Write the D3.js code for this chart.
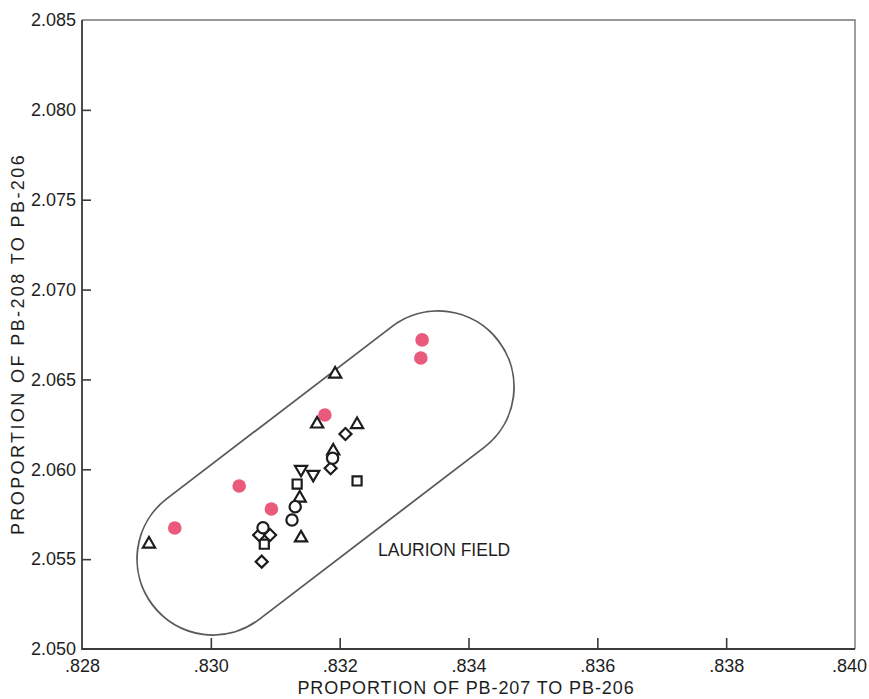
<!DOCTYPE html>
<html>
<head>
<meta charset="utf-8">
<script src="https://cdn.jsdelivr.net/npm/d3@7"></script>
<style>
  html, body { margin: 0; padding: 0; background: #fff; }
  svg { display: block; }
  text { font-family: "Liberation Sans", Arial, Helvetica, sans-serif; fill: #1e1e1e; }
</style>
</head>
<body>
<svg id="chart" width="869" height="699"></svg>
<script>
// Lead isotope ratios: PB-207/PB-206 (x) against PB-208/PB-206 (y)
const xTicks = [0.828, 0.830, 0.832, 0.834, 0.836, 0.838, 0.840];
const xTickLabels = [".828", ".830", ".832", ".834", ".836", ".838", ".840"];
const yTicks = [2.050, 2.055, 2.060, 2.065, 2.070, 2.075, 2.080, 2.085];
const yTickLabels = ["2.050", "2.055", "2.060", "2.065", "2.070", "2.075", "2.080", "2.085"];

// Filled samples
const dotX = [0.82944, 0.83044, 0.83094, 0.83177, 0.83328, 0.83326];
const dotY = [2.05673, 2.05907, 2.05779, 2.06302, 2.06720, 2.06619];

// Open-symbol samples, one pair of arrays per symbol
const triUpX = [0.82904, 0.83193, 0.83165, 0.83227, 0.83190, 0.83138, 0.83140];
const triUpY = [2.05584, 2.06530, 2.06252, 2.06249, 2.06102, 2.05840, 2.05618];
const triDownX = [0.83140, 0.83159];
const triDownY = [2.06000, 2.05972];
const diamondX = [0.83209, 0.83186, 0.83075, 0.83092, 0.83079];
const diamondY = [2.06196, 2.06006, 2.05634, 2.05634, 2.05486];
const circleX = [0.83189, 0.83131, 0.83126, 0.83081];
const circleY = [2.06061, 2.05792, 2.05718, 2.05675];
const squareX = [0.83134, 0.83227, 0.83083];
const squareY = [2.05918, 2.05935, 2.05583];

// Laurion field outline: capsule between two end centres
const fieldEndX = [0.830034, 0.833527];
const fieldEndY = [2.055008, 2.064579];
const fieldLabel = "LAURION FIELD";

const svg = d3.select("#chart");
const plotLeft = 82, plotRight = 855, plotTop = 20, plotBottom = 649;

const x = d3.scaleLinear().domain([0.828, 0.840]).range([plotLeft, plotRight]);
const y = d3.scaleLinear().domain([2.050, 2.085]).range([plotBottom, plotTop]);

// Frame
svg.append("path")
  .attr("d", `M${plotLeft},${plotTop}H${plotRight}V${plotBottom}`)
  .attr("fill", "none").attr("stroke", "#777").attr("stroke-width", 1.4);
svg.append("path")
  .attr("d", `M${plotLeft},${plotTop}V${plotBottom}H${plotRight}`)
  .attr("fill", "none").attr("stroke", "#3a3a3a").attr("stroke-width", 1.8);

// Axes with inward ticks
const yAxis = d3.axisLeft(y)
  .tickValues(yTicks)
  .tickFormat((d, i) => yTickLabels[i])
  .tickSizeInner(-9).tickSizeOuter(0).tickPadding(6);
const gy = svg.append("g").attr("transform", `translate(${plotLeft},0)`).call(yAxis);
gy.select(".domain").remove();
gy.selectAll(".tick line").attr("stroke", "#3a3a3a").attr("stroke-width", 1.6)
  .filter(d => d === 2.050 || d === 2.085).remove();
gy.selectAll(".tick text").attr("font-size", 18).attr("fill", (d) => d === 2.085 ? "#707070" : "#1e1e1e");

const xAxis = d3.axisBottom(x)
  .tickValues(xTicks)
  .tickFormat((d, i) => xTickLabels[i])
  .tickSizeInner(-11).tickSizeOuter(0).tickPadding(10);
const gx = svg.append("g").attr("transform", `translate(0,${plotBottom})`).call(xAxis);
gx.select(".domain").remove();
gx.selectAll(".tick line").attr("stroke", "#3a3a3a").attr("stroke-width", 1.6)
  .filter(d => d === 0.828 || d === 0.840).remove();
gx.selectAll(".tick text").attr("font-size", 18).attr("fill", "#1e1e1e")
  .filter(d => d === 0.840).attr("dx", -6);

// Axis titles
svg.append("text")
  .attr("x", 466).attr("y", 694)
  .attr("text-anchor", "middle").attr("font-size", 18)
  .attr("letter-spacing", 0.9)
  .text("PROPORTION OF PB-207 TO PB-206");
svg.append("text")
  .attr("transform", "translate(24,344) rotate(-90)")
  .attr("text-anchor", "middle").attr("font-size", 18)
  .attr("letter-spacing", 2.4)
  .text("PROPORTION OF PB-208 TO PB-206");

// Field outline
const r = 76;
const c1 = [x(fieldEndX[0]), y(fieldEndY[0])];
const c2 = [x(fieldEndX[1]), y(fieldEndY[1])];
const len = Math.hypot(c2[0] - c1[0], c2[1] - c1[1]);
const dir = [(c2[0] - c1[0]) / len, (c2[1] - c1[1]) / len];
const nrm = [dir[1], -dir[0]];  // normal pointing to the upper-left side
const pt = (c, s) => [c[0] + s * r * nrm[0], c[1] + s * r * nrm[1]];
const a1 = pt(c1, 1), a2 = pt(c2, 1), b2 = pt(c2, -1), b1 = pt(c1, -1);
svg.append("path")
  .attr("d", `M${a1}L${a2}A${r},${r} 0 0 1 ${b2}L${b1}A${r},${r} 0 0 1 ${a1}Z`)
  .attr("fill", "none").attr("stroke", "#5a5a5a").attr("stroke-width", 1.8);

svg.append("text")
  .attr("x", 378).attr("y", 556)
  .attr("font-size", 17.5)
  .text(fieldLabel);

// Filled pink samples
svg.append("g").selectAll("circle")
  .data(dotX.map((v, i) => [v, dotY[i]]))
  .join("circle")
  .attr("cx", p => x(p[0])).attr("cy", p => y(p[1]))
  .attr("r", 6.8).attr("fill", "#ea5a7d");

// Open symbols
const mark = svg.append("g").attr("fill", "#fff").attr("stroke", "#1c1c1c").attr("stroke-width", 2.2);
function symbols(xs, ys, type, size, rot) {
  mark.append("g").selectAll("path")
    .data(xs.map((v, i) => [v, ys[i]]))
    .join("path")
    .attr("transform", p => `translate(${x(p[0])},${y(p[1])}) rotate(${rot})`)
    .attr("d", d3.symbol(type, size));
}
symbols(triUpX, triUpY, d3.symbolTriangle, 64, 0);
symbols(triDownX, triDownY, d3.symbolTriangle, 64, 180);
symbols(squareX, squareY, d3.symbolSquare, 82, 0);
symbols(diamondX, diamondY, d3.symbolSquare, 72, 45);
symbols(circleX, circleY, d3.symbolCircle, 100, 0);
</script>
</body>
</html>
